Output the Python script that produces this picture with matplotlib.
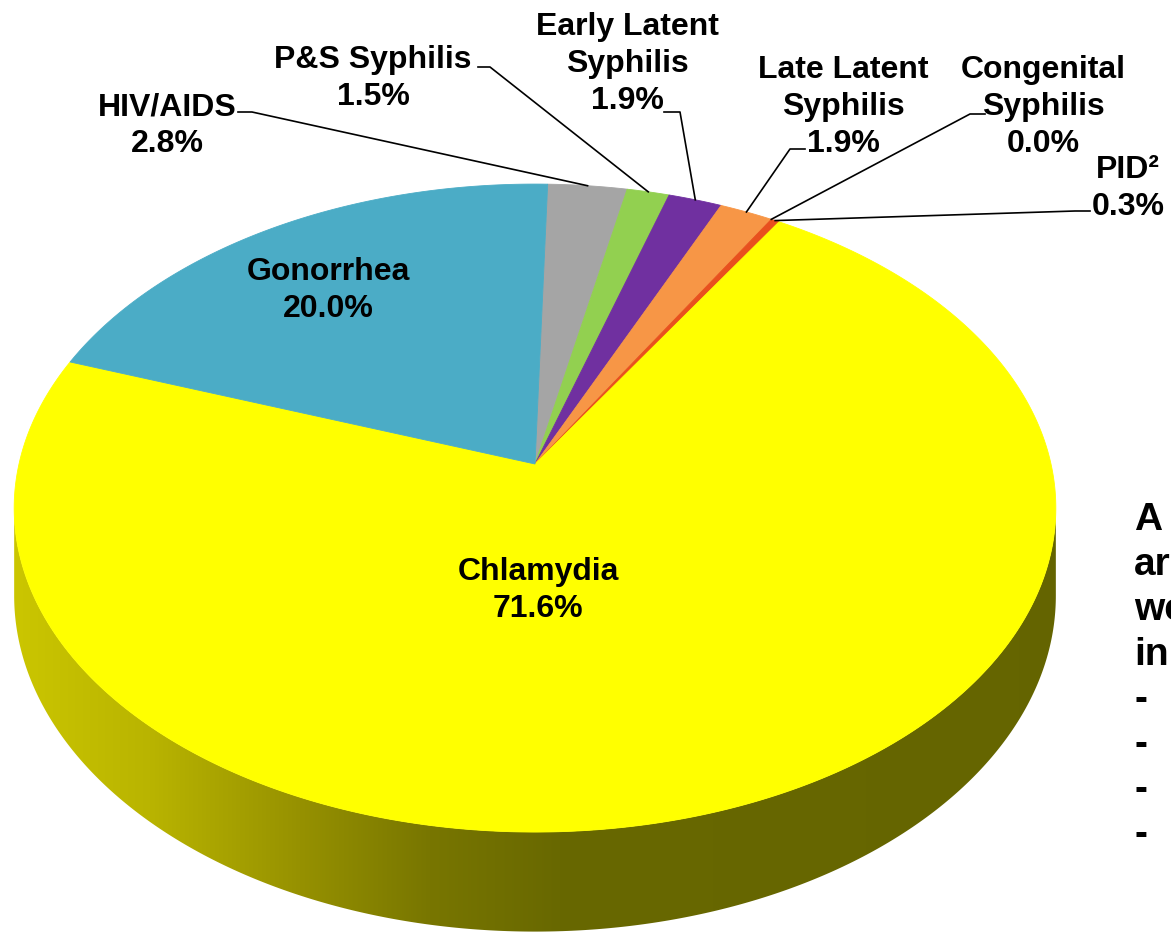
import numpy as np
import matplotlib.pyplot as plt
from matplotlib.patches import Polygon

plt.rcParams['font.family'] = ['Liberation Sans', 'DejaVu Sans']

# slices in clockwise order, starting just left of 12 o'clock
names = ['HIV/AIDS', 'P&S Syphilis', 'Early Latent\nSyphilis', 'Late Latent\nSyphilis',
         'Congenital\nSyphilis', 'PID\u00b2', 'Chlamydia', 'Gonorrhea']
pcts = [2.8, 1.5, 1.9, 1.9, 0.0, 0.3, 71.6, 20.0]
colors = ['#A5A5A5', '#92D050', '#7030A0', '#F79646', '#C0504D', '#E8501E', '#FFFF00', '#4BACC6']

# cut-off text at the right edge of the slide
side_note = ['A', 'are', 'were', 'in', '-', '-', '-', '-']

# label placement (pixels): centre x, baseline of first line
label_x = [167, 373, 627, 843, 1043, 1128, 538, 328]
label_y = [115, 68, 35, 78, 78, 178, 580, 280]
# leader lines: text end, elbow, y of the short horizontal piece
leader = [(238, 252, 113), (478, 490, 68), (664, 680, 113), (805, 790, 150),
          (985, 970, 115), (1090, 1075, 212), None, None]

W, H = 1171, 937
CX, CY = 535, 465          # apex of the pie
RX, RY, PERSP = 516, 318, 0.136
DEPTH = 86
START = 88.4


def top_xy(theta):
    t = np.radians(theta)
    s = 1 / (1 + PERSP * np.sin(t))
    return CX + RX * np.cos(t) * s, CY - RY * np.sin(t) * s


fig = plt.figure(figsize=(W / 100, H / 100), dpi=100)
ax = fig.add_axes([0, 0, 1, 1])
ax.set_xlim(0, W)
ax.set_ylim(H, 0)
ax.axis('off')

# side of the cylinder (front half only), shaded left to right
tl = 180 + np.degrees(np.arcsin(PERSP))
tr = 360 - np.degrees(np.arcsin(PERSP))
th = np.linspace(tl, tr, 400)
xs, ys = top_xy(th)
yb = ys + DEPTH / (1 + PERSP * np.sin(np.radians(th)))
side = Polygon(np.column_stack([np.r_[xs, xs[::-1]], np.r_[ys, yb[::-1]]]),
               closed=True, fc='none', ec='none')
ax.add_patch(side)

stop_x = [0, 150, 300, 430, 560, W]
stop_c = np.array([[205, 200, 0], [185, 180, 0], [150, 145, 0],
                   [120, 118, 0], [104, 104, 0], [100, 100, 0]]) / 255
px = np.arange(W)
grad = np.stack([np.interp(px, stop_x, stop_c[:, k]) for k in range(3)], axis=-1)[None, :, :]
im = ax.imshow(grad, extent=[0, W, H, 0], aspect='auto', interpolation='bilinear')
im.set_clip_path(side)
ax.set_xlim(0, W)
ax.set_ylim(H, 0)

# top surface
ang = np.array(pcts) / sum(pcts) * 360
edges = START - np.concatenate([[0], np.cumsum(ang)])
for i in range(len(pcts)):
    a0, a1 = edges[i], edges[i + 1]
    if a0 == a1:
        continue
    t = np.linspace(a0, a1, max(int(abs(a0 - a1) * 2), 3))
    xs, ys = top_xy(t)
    ax.add_patch(Polygon(np.column_stack([np.r_[CX, xs], np.r_[CY, ys]]), closed=True,
                         fc=colors[i], ec=colors[i], lw=0.6))

# labels and leader lines
for i, name in enumerate(names):
    lines = name.split('\n') + ['%.1f%%' % pcts[i]]
    for j, ln in enumerate(lines):
        ax.text(label_x[i], label_y[i] + j * 37, ln, ha='center', va='baseline',
                fontsize=23, fontweight='bold', color='black')
    if leader[i] is not None:
        x0, x1, yl = leader[i]
        mx, my = top_xy((edges[i] + edges[i + 1]) / 2)
        ax.plot([x0, x1, mx], [yl, yl, my], color='black', lw=1.2)

for k, s in enumerate(side_note):
    ax.text(1134, 530 + k * 45, s, ha='left', va='baseline', fontsize=28,
            fontweight='bold', color='black')

fig.savefig('out.png', dpi=100)
